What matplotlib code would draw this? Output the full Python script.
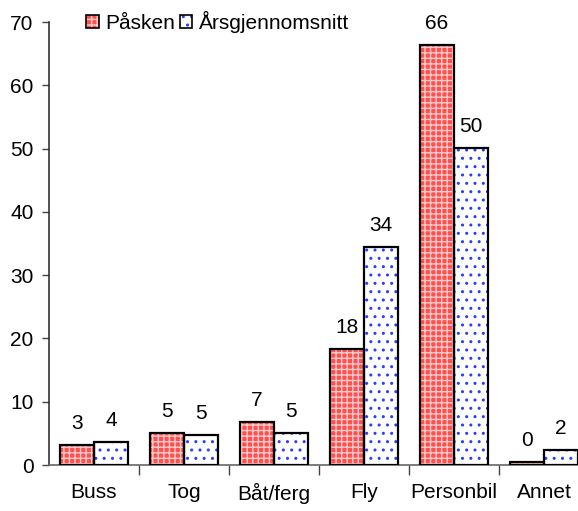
import numpy as np
import matplotlib.pyplot as plt
from matplotlib.patches import Patch
from matplotlib.legend_handler import HandlerTuple

plt.rcParams['font.family'] = ['Liberation Sans', 'DejaVu Sans']
plt.rcParams['hatch.linewidth'] = 1.0

categories = ['Buss', 'Tog', 'Båt/ferg', 'Fly', 'Personbil', 'Annet']
paasken = [3.2, 5.0, 6.8, 18.3, 66.4, 0.4]
aarsgjennomsnitt = [3.6, 4.7, 5.0, 34.4, 50.1, 2.3]
series_names = ['Påsken', 'Årsgjennomsnitt']

red_face = '#ff5050'
red_hatch = '#ffcccc'
blue_dot = '#2b3cff'

fig = plt.figure(figsize=(5.78, 5.11), dpi=100)
ax = fig.add_axes([49 / 578, 46 / 511, 540 / 578, 443 / 511])

x = np.arange(len(categories))
w = 0.378

# Påsken: red with fine white check
ax.bar(x - w / 2, paasken, w, color=red_face, hatch='+++', edgecolor=red_hatch, linewidth=0, zorder=2)
# Årsgjennomsnitt: white with blue dots
ax.bar(x + w / 2, aarsgjennomsnitt, w, color='white', hatch='..', edgecolor=blue_dot, linewidth=0, zorder=2)
# black outlines on top
ax.bar(x - w / 2, paasken, w, fill=False, edgecolor='black', linewidth=1.6, zorder=3)
ax.bar(x + w / 2, aarsgjennomsnitt, w, fill=False, edgecolor='black', linewidth=1.6, zorder=3)

for i in range(len(categories)):
    ax.annotate(f'{paasken[i]:.0f}', (x[i] - w / 2, paasken[i]), xytext=(0, 12),
                textcoords='offset pixels', ha='center', va='bottom', fontsize=15)
    ax.annotate(f'{aarsgjennomsnitt[i]:.0f}', (x[i] + w / 2, aarsgjennomsnitt[i]), xytext=(0, 12),
                textcoords='offset pixels', ha='center', va='bottom', fontsize=15)

ax.set_xlim(-0.5, len(categories) - 0.5)
ax.set_ylim(0, 70)
ax.set_yticks(range(0, 71, 10))
ax.set_xticks(x)
ax.set_xticklabels(categories)
ax.set_xticks(np.arange(0.5, len(categories) - 0.5), minor=True)

ax.tick_params(axis='y', length=5, width=1, pad=6, labelsize=15, color='#444444')
ax.tick_params(axis='x', which='major', length=0, pad=13, labelsize=15)
ax.tick_params(axis='x', which='minor', length=7, width=1, color='#444444')

for side in ['top', 'right']:
    ax.spines[side].set_visible(False)
ax.spines['left'].set_color('#333333')
ax.spines['left'].set_linewidth(1.2)
ax.spines['bottom'].set_color('#666666')
ax.spines['bottom'].set_linewidth(1.2)

# legend keys: fill pattern with a black outline drawn over it
handles = [
    (Patch(facecolor=red_face, hatch='+++', edgecolor=red_hatch, linewidth=0),
     Patch(fill=False, edgecolor='black', linewidth=1.2)),
    (Patch(facecolor='white', hatch='..', edgecolor=blue_dot, linewidth=0),
     Patch(fill=False, edgecolor='black', linewidth=1.2)),
]
fig.legend(handles, series_names, loc='upper left', bbox_to_anchor=(78 / 578, 0.995),
           ncol=2, frameon=False, fontsize=15, handlelength=0.62, handleheight=0.62,
           handletextpad=0.3, columnspacing=0.2, borderaxespad=0,
           handler_map={tuple: HandlerTuple(ndivide=1, pad=0)})

fig.savefig('out.png', dpi=100)
